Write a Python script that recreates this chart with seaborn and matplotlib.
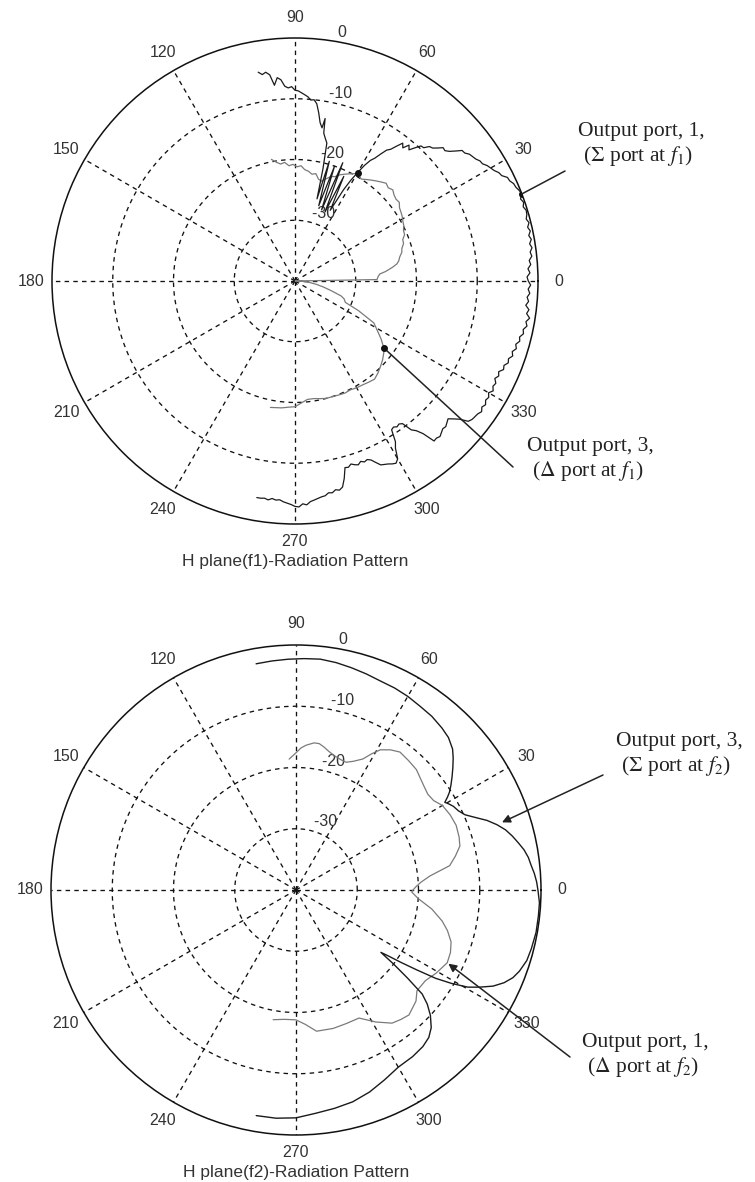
import numpy as np
import matplotlib
matplotlib.use("Agg")
import matplotlib.pyplot as plt
import seaborn as sns

sns.set_theme(style="white")
plt.rcParams["font.family"] = ["Liberation Sans", "DejaVu Sans"]
plt.rcParams["mathtext.fontset"] = "stix"

# ---------------------------------------------------------------------------
# Measured H-plane patterns (angle in degrees, level in dB, 0 dB = peak)
# ---------------------------------------------------------------------------
# f1, output port 1 (sum port)
SUM_F1_ANG = [100, 99, 98, 97, 96, 95, 94, 93, 92, 91, 90, 89, 88, 87, 86, 85, 84, 83, 82, 81,
              80, 79.5, 79, 78, 77,
              76, 75, 74, 72.5, 71, 69.5, 68, 66.5, 65, 63.5, 62, 61,
              60, 59, 58, 57, 56, 55, 54, 53, 52, 51, 50, 49, 48, 47, 46, 45, 44, 43, 42, 41,
              40, 39, 38, 37, 36, 35, 34, 33, 32, 31, 30, 29, 28, 27, 26, 25, 24, 23, 22, 21,
              20, 19, 18, 17, 16, 15, 14, 13, 12, 11, 10, 9, 8, 7, 6, 5, 4, 3, 2, 1,
              0, -1, -2, -3, -4, -5, -6, -7, -8, -9, -10, -11, -12, -13, -14, -15, -16, -17, -18, -19,
              -20, -21, -22, -23, -24, -25, -26, -27, -28, -29, -30, -31, -32, -33, -34, -35, -36, -37, -38, -39,
              -40, -41, -42, -43, -44, -45, -46, -47, -48, -49, -50, -51, -52, -53, -54, -55, -56, -57, -58, -59,
              -60, -61, -62, -63, -64, -65, -66, -67, -68, -69, -70, -71, -72, -73, -74, -75, -76, -77, -78, -79,
              -80, -81, -82, -83, -84, -85, -86, -87, -88, -89, -90, -91, -92, -93, -94, -95, -96, -97, -98, -99,
              -100]
SUM_F1_DB = [-5.1, -5.6, -5.3, -5.8, -7.6, -6.4, -6.8, -7.9, -8.2, -8.0, -8.6, -8.7, -9.0, -9.3, -9.6, -10.1, -10.0, -10.6, -12.0, -13.6,
             -14.4, -12.8, -15.2, -16.0, -16.7,
             -21.0, -26.0, -19.5, -27.0, -20.0, -27.5, -19.0, -27.6, -21.0, -27.0, -23.0, -21.0,
             -19.4, -17.8, -16.6, -15.9, -14.8, -13.7, -13.2, -12.2, -11.2, -11.8, -10.8, -11.4, -10.5, -9.6, -9.5, -8.7, -8.5, -7.9, -7.2, -7.3,
             -6.8, -6.0, -5.1, -5.0, -4.5, -4.3, -4.1, -3.7, -3.6, -3.1, -2.8, -2.5, -2.0, -1.8, -1.1, -1.0, -0.6, -0.5, -0.2, 0.0,
             -0.5, -0.2, -0.5, -0.2, -0.3, -0.6, -0.3, -0.7, -0.4, -0.8, -0.5, -0.9, -0.6, -1.0, -0.8, -1.3, -1.1, -1.6, -1.3, -1.8,
             -1.6, -1.2, -1.6, -1.3, -1.7, -1.4, -1.8, -1.2, -1.5, -0.9, -1.4, -1.1, -1.6, -1.4, -1.9, -1.7, -2.2, -1.9, -2.4, -2.1,
             -2.6, -2.4, -2.9, -2.7, -3.3, -3.0, -3.4, -2.9, -3.1, -2.7, -3.2, -2.8, -3.0, -2.6, -2.9, -2.5, -2.8, -2.9, -3.0, -3.3,
             -4.6, -5.4, -6.1, -5.8, -5.5, -5.6, -5.3, -5.0, -5.2, -5.1, -7.2, -8.3, -8.9, -10.6, -10.9, -10.7, -11.0, -10.8, -8.8, -7.9,
             -6.2, -5.7, -5.9, -6.2, -6.4, -6.6, -7.3, -8.0, -8.3, -8.1, -8.4, -8.0, -8.2, -8.5, -8.1, -8.2, -6.5, -5.2, -4.8, -5.0,
             -4.6, -4.7, -4.3, -4.2, -4.0, -3.8, -3.6, -3.1, -3.3, -2.8, -2.9, -3.2, -3.4, -3.6, -3.9, -3.8, -4.0, -3.7, -3.9, -3.8,
             -3.8]

# f1, output port 3 (difference port)
DIF_F1_ANG = [101, 99, 97, 95, 93, 91, 89, 87, 85, 83, 81, 79, 77, 75, 73, 71, 69, 67, 65, 63,
              61, 59, 57, 55, 53, 51, 49, 47, 45, 43, 41, 39, 37, 35, 33, 31, 29, 27, 25, 23,
              21, 19, 17, 15, 13, 11, 9.5, 8, 6, 4.7, 3, 1, 0,
              -3, -6, -9, -12, -15, -18, -20, -23, -25, -28, -31, -34, -37, -39, -42, -45, -48, -51,
              -54, -57, -60, -63, -66, -69, -72, -75, -78, -81, -84, -87, -90, -93, -96, -99, -101]
DIF_F1_DB = [-19.6, -20.2, -20.6, -20.4, -21.0, -20.8, -21.2, -21.0, -21.6, -21.8, -22.2, -22.0, -22.8, -23.0, -22.4, -21.8, -21.6, -21.0, -20.6, -20.2,
             -19.8, -19.6, -20.0, -19.6, -19.2, -18.8, -18.4, -18.0, -18.3, -18.0, -18.4, -18.6, -18.5, -19.0, -19.2, -19.4, -19.7, -19.9, -20.3, -20.4,
             -21.0, -21.1, -21.6, -21.8, -22.3, -22.6, -23.0, -23.8, -25.0, -26.0, -26.3, -26.5, -40.0,
             -38.8, -37.5, -36.4, -35.2, -33.8, -32.0, -31.4, -31.0, -28.5, -25.3, -24.2, -22.9, -21.7, -21.2, -20.6, -20.1, -19.6, -19.2,
             -19.4, -19.6, -19.7, -19.9, -19.8, -19.9, -20.0, -20.0, -20.2, -20.4, -20.4, -19.9, -19.3, -19.2, -19.0, -18.9, -18.8]

# f2, output port 3 (sum port)
SUM_F2_ANG = [100, 96, 92, 88, 84, 80, 76, 72, 68, 64, 60, 56, 52, 48, 45, 42, 40, 38, 36, 34,
              32.5, 31.5, 30.5, 29.5, 28, 26, 24, 22, 20, 18, 16, 14, 12, 10, 8, 6, 4, 2, 0,
              -3, -6, -10, -14, -17, -20, -22, -24, -26, -28, -29.5, -31, -32.3, -33.5, -34.6, -35.6, -36.3,
              -37.2, -38.3, -39.5, -41, -43, -45.5, -48, -51, -55, -60, -65, -70, -75, -80, -85, -90, -95, -100]
SUM_F2_DB = [-2.5, -2.4, -2.3, -2.2, -2.1, -2.3, -2.6, -2.9, -3.2, -3.3, -3.5, -3.8, -4.0, -4.4, -4.8, -5.6, -6.5, -7.5, -8.5, -9.5,
             -10.3, -11.0, -11.8, -11.4, -10.9, -10.5, -9.8, -8.4, -6.8, -5.5, -4.4, -3.6, -2.9, -2.2, -1.7, -1.4, -1.0, -0.7, -0.5,
             -0.2, -0.2, -0.2, -0.4, -0.6, -1.2, -1.8, -2.8, -4.2, -6.2, -7.8, -10.4, -13.0, -16.4, -19.2, -21.6, -22.8,
             -20.0, -16.8, -13.3, -11.6, -10.0, -8.5, -7.6, -7.1, -6.8, -6.6, -5.8, -4.9, -4.2, -3.8, -3.4, -2.8, -2.6, -2.6]

# f2, output port 1 (difference port)
DIF_F2_ANG = [93, 90, 88, 86, 83, 81, 79, 76.4, 74, 71, 68.6, 66, 63, 61, 59, 56, 53, 49, 45, 42,
              39, 36, 33, 30, 26, 22, 18, 15, 12, 9, 6, 3.5, 1.6, 0, -1,
              -4, -8, -12, -15, -18.5, -22, -25.7, -28, -30.7, -35, -39.8, -42.8, -47.9, -51, -54.2,
              -58.8, -63.8, -69.3, -75, -81.7, -86, -90, -95, -100]
DIF_F2_DB = [-18.6, -17.6, -16.8, -16.3, -15.8, -15.8, -16.2, -16.8, -17.2, -17.5, -17.6, -17.0, -16.0, -14.6, -13.3, -12.4, -11.8, -12.0, -12.2, -12.7,
             -13.1, -13.4, -13.2, -12.4, -12.0, -11.8, -12.0, -12.3, -13.4, -14.6, -18.0, -19.6, -20.4, -20.9, -21.1,
             -20.0, -17.6, -15.6, -14.4, -13.3, -12.8, -12.6, -13.0, -13.4, -14.2, -14.3, -13.3, -12.5, -12.8, -13.2,
             -14.8, -16.7, -16.7, -16.6, -16.7, -18.0, -18.8, -18.8, -18.5]

# Grid / label definitions
ANGLE_TICKS = [0, 30, 60, 90, 120, 150, 180, 210, 240, 270, 300, 330]
ANGLE_LABELS = ["0", "30", "60", "90", "120", "150", "180", "210", "240", "270", "300", "330"]
RING_LEVELS = [-30, -20, -10]
RADIAL_LEVELS = [-30, -20, -10, 0]
RADIAL_LABELS = ["-30", "-20", "-10", "0"]
R_MIN, R_MAX = -40, 0
TITLES = ["H plane(f1)-Radiation Pattern", "H plane(f2)-Radiation Pattern"]

W, H = 755, 1182
fig = plt.figure(figsize=(W / 100, H / 100), dpi=100)
fig.patch.set_facecolor("white")

TICK_COLOR = "#333333"
DASH = (0, (3.4, 3.2))


def box(cx, cy, r):
    return [(cx - r) / W, 1 - (cy + r) / H, 2 * r / W, 2 * r / H]


def fig_xy(x, y):
    return (x / W, 1 - y / H)


def polar_frame(ax, title):
    ax.set_theta_zero_location("E")
    ax.set_theta_direction(1)
    ax.set_xticks([])
    ax.set_yticks([])
    ax.grid(False)
    ax.set_facecolor("white")
    ax.spines["polar"].set_linewidth(1.1)
    ax.spines["polar"].set_color("#111111")
    th = np.linspace(0, 2 * np.pi, 400)
    for lvl in RING_LEVELS:
        ax.plot(th, np.full_like(th, lvl), color="#111111", lw=0.95, ls=DASH, zorder=1)
    for a in ANGLE_TICKS:
        t = np.deg2rad(a)
        ax.plot([t, t], [R_MIN, R_MAX], color="#111111", lw=0.95, ls=DASH, zorder=1)
    for a, lab in zip(ANGLE_TICKS, ANGLE_LABELS):
        t = np.deg2rad(a)
        rr = 0.535 if a == 270 else 0.543
        ax.text(0.5 + rr * np.cos(t), 0.5 + rr * np.sin(t), lab,
                transform=ax.transAxes, ha="center", va="center",
                fontsize=11.5, color=TICK_COLOR)
    t82 = np.deg2rad(82)
    for lvl, lab in zip(RADIAL_LEVELS, RADIAL_LABELS):
        f = 0.5 * (lvl - R_MIN) / (R_MAX - R_MIN)
        ax.text(0.5 + f * np.cos(t82), 0.5 + f * np.sin(t82), "  " + lab,
                transform=ax.transAxes, ha="left", va="bottom",
                fontsize=11.5, color=TICK_COLOR)
    ax.text(0.5, 0.5 - 0.577, title, transform=ax.transAxes, ha="center",
            va="center", fontsize=12.5, color=TICK_COLOR)
    ax.set_ylim(R_MIN, R_MAX)


def draw_curve(ax, ang, db, color, lw):
    sns.lineplot(x=np.deg2rad(ang), y=db, sort=False, estimator=None,
                 color=color, lw=lw, ax=ax, zorder=3)


def point(ang, db, a):
    i = ang.index(a)
    return np.deg2rad(ang[i]), db[i]


LABEL_FONT = dict(family=["Liberation Serif", "DejaVu Serif"], fontsize=15.5,
                  color="#222222", ha="left", va="top", linespacing=1.2)

# ---------------------------- top chart (f1) ------------------------------
ax1 = fig.add_axes(box(295, 281, 243), projection="polar")
polar_frame(ax1, TITLES[0])
draw_curve(ax1, DIF_F1_ANG, DIF_F1_DB, "#7a7a7a", 0.9)
draw_curve(ax1, SUM_F1_ANG, SUM_F1_DB, "#1a1a1a", 0.9)
ax1.set_ylim(R_MIN, R_MAX)

p_sum1 = point(SUM_F1_ANG, SUM_F1_DB, 21)
p_dif1 = point(DIF_F1_ANG, DIF_F1_DB, -37)
p_cross = point(SUM_F1_ANG, SUM_F1_DB, 60)
for p in (p_sum1, p_dif1, p_cross):
    ax1.plot([p[0]], [p[1]], "o", color="#111111", ms=4, zorder=4)

ax1.annotate("", xy=p_sum1, xycoords="data", xytext=fig_xy(565, 171),
             textcoords="figure fraction",
             arrowprops=dict(arrowstyle="-", color="#222222", lw=1.1,
                             shrinkA=0, shrinkB=0))
ax1.annotate("", xy=p_dif1, xycoords="data", xytext=fig_xy(513, 467),
             textcoords="figure fraction",
             arrowprops=dict(arrowstyle="-", color="#222222", lw=1.1,
                             shrinkA=0, shrinkB=0))
fig.text(*fig_xy(578, 122), "Output port, 1,\n ($\\Sigma$ port at $f_1$)", **LABEL_FONT)
fig.text(*fig_xy(527, 437), "Output port, 3,\n ($\\Delta$ port at $f_1$)", **LABEL_FONT)

# --------------------------- bottom chart (f2) ----------------------------
ax2 = fig.add_axes(box(296, 890, 245), projection="polar")
polar_frame(ax2, TITLES[1])
draw_curve(ax2, DIF_F2_ANG, DIF_F2_DB, "#7a7a7a", 0.9)
draw_curve(ax2, SUM_F2_ANG, SUM_F2_DB, "#1a1a1a", 1.0)
ax2.set_ylim(R_MIN, R_MAX)

p_sum2 = point(SUM_F2_ANG, SUM_F2_DB, 18)
p_dif2 = point(DIF_F2_ANG, DIF_F2_DB, -25.7)
ax2.annotate("", xy=p_sum2, xycoords="data", xytext=fig_xy(603, 775),
             textcoords="figure fraction",
             arrowprops=dict(arrowstyle="-|>", color="#222222", lw=1.1,
                             mutation_scale=12, shrinkA=0, shrinkB=4))
ax2.annotate("", xy=p_dif2, xycoords="data", xytext=fig_xy(570, 1057),
             textcoords="figure fraction",
             arrowprops=dict(arrowstyle="-|>", color="#222222", lw=1.1,
                             mutation_scale=12, shrinkA=0, shrinkB=1))
fig.text(*fig_xy(616, 732), "Output port, 3,\n ($\\Sigma$ port at $f_2$)", **LABEL_FONT)
fig.text(*fig_xy(582, 1033), "Output port, 1,\n ($\\Delta$ port at $f_2$)", **LABEL_FONT)

fig.savefig("out.png", dpi=100, facecolor="white")
